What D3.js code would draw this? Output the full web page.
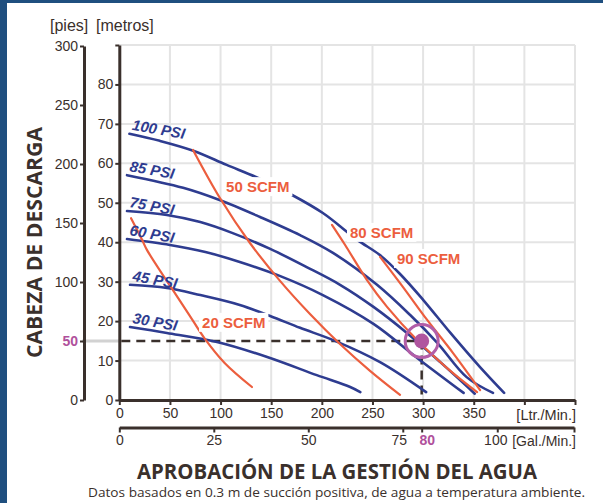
<!DOCTYPE html>
<html>
<head>
<meta charset="utf-8">
<script src="https://cdn.jsdelivr.net/npm/d3@7"></script>
<style>
  html, body { margin: 0; padding: 0; background: #ffffff; }
  svg { display: block; }
</style>
</head>
<body>
<svg id="chart" width="603" height="503"></svg>
<script>
// ---- Pump performance data: flow in L/min, discharge head in metres ----
const psiLabels = ["100 PSI", "85 PSI", "75 PSI", "60 PSI", "45 PSI", "30 PSI"];
const psi100 = [[10,67.5],[40,65.7],[73,63.2],[106,59.6],[137,56.3],[169,52.2],[201,47.4],[235,40.6],[257,36.8],[277,32],[300,25.4],[327,17],[356,8.4],[380,1.8]];
const psi85  = [[7.6,57],[63,53.8],[99,50.7],[139,46.4],[178.5,41.8],[211,37.3],[254.5,29.2],[287,21.6],[314,14.5],[343,5.8],[369,1.8]];
const psi75  = [[7.6,47.9],[47,46.9],[80,45.1],[112,42.3],[149,38.3],[185,33.7],[218,29.2],[251,23.6],[284,17],[317,9.6],[351,1.6]];
const psi60  = [[7.6,40.8],[50,39.3],[85,37.5],[119,35],[159,31.4],[201,26.6],[251,19.3],[297,10.1],[340,1.8]];
const psi45  = [[10.6,29.2],[47,28.4],[80,26.6],[119,24.1],[149,21.3],[178.5,18.3],[213,15],[257.5,9.6],[303,2]];
const psi30  = [[10.6,18.5],[47,17],[96.5,14.7],[146,10.9],[195,6.3],[228,3.3],[238,2]];

const scfmLabels = ["20 SCFM", "50 SCFM", "80 SCFM", "90 SCFM"];
const scfm20 = [[11.6,46.1],[22.5,40.6],[27.4,38],[51,28.6],[69,21.6],[84,15.7],[104,9.4],[131,3.3]];
const scfm50 = [[72.8,63.4],[99.4,51.2],[129,39.8],[158.7,30.2],[188.3,21.8],[217.9,14.2],[247.6,7.4],[277.2,1.3]];
const scfm80 = [[210,44.4],[223,39.3],[244.6,30.4],[264.4,23.6],[294,15.2],[323.7,8.1],[353.3,2]];
const scfm90 = [[257.5,36.3],[280,28.7],[304,20.3],[329.6,11.9],[356.3,2.5]];

// Tick values for each axis
const piesTicks   = [0, 50, 100, 150, 200, 250, 300];
const metrosTicks = [0, 10, 20, 30, 40, 50, 60, 70, 80, 90];
const ltrTicks    = [0, 50, 100, 150, 200, 250, 300, 350, 400, 450];
const galTicks    = [0, 25, 50, 75, 80, 100];

// Highlighted duty point: 80 gal/min at 50 ft
const dutyGal = 80;
const dutyFt = 50;

// ---- Layout ----
const svg = d3.select("#chart");
const blueEdge = "#1f4f7f";
const ink = "#3a302c";
const blue = "#2e3c90";
const red = "#ec5e3e";
const purple = "#b0509c";
const gridColor = "#e4e4e4";

svg.append("rect").attr("x", 0).attr("y", 0).attr("width", 603).attr("height", 503).attr("fill", "#ffffff");
svg.append("rect").attr("x", 0).attr("y", 0).attr("width", 7).attr("height", 503).attr("fill", blueEdge);
svg.append("rect").attr("x", 0).attr("y", 0).attr("width", 603).attr("height", 3).attr("fill", blueEdge);

const x0 = 119.3, x1 = 575, yBot = 400, yTop = 45;
const x = d3.scaleLinear().domain([0, 450]).range([x0, x1]);
const y = d3.scaleLinear().domain([0, 90]).range([yBot, yTop]);
const yFt = d3.scaleLinear().domain([0, 300]).range([yBot, 46]);
const xGal = d3.scaleLinear().domain([0, 120.3]).range([x0, 574]);

// Grid
const grid = svg.append("g");
grid.selectAll("line.v").data(ltrTicks.slice(1)).join("line")
  .attr("x1", d => x(d)).attr("x2", d => x(d)).attr("y1", yTop).attr("y2", yBot)
  .attr("stroke", gridColor).attr("stroke-width", 2);
grid.selectAll("line.h").data(metrosTicks.slice(1)).join("line")
  .attr("x1", x0).attr("x2", x1).attr("y1", d => y(d)).attr("y2", d => y(d))
  .attr("stroke", gridColor).attr("stroke-width", 2);

// Guide from the feet axis to the metres axis at the duty head
svg.append("line")
  .attr("x1", 82).attr("x2", x0).attr("y1", yFt(dutyFt)).attr("y2", yFt(dutyFt))
  .attr("stroke", "#d2d2d2").attr("stroke-width", 3);

// Dashed duty-point guides
const dutyX = xGal(dutyGal), dutyY = yFt(dutyFt);
svg.append("path")
  .attr("d", `M${x0 + 2},${dutyY}H${dutyX}V${yBot}`)
  .attr("fill", "none").attr("stroke", ink).attr("stroke-width", 2.5)
  .attr("stroke-dasharray", "9,6");

// Curves
const line = d3.line().x(d => x(d[0])).y(d => y(d[1])).curve(d3.curveCatmullRom.alpha(0.5));
const psiSeries = [psi100, psi85, psi75, psi60, psi45, psi30];
const scfmSeries = [scfm20, scfm50, scfm80, scfm90];

svg.append("g").selectAll("path").data(psiSeries).join("path")
  .attr("d", line).attr("fill", "none").attr("stroke", blue).attr("stroke-width", 2.6)
  .attr("stroke-linecap", "round");
svg.append("g").selectAll("path").data(scfmSeries).join("path")
  .attr("d", line).attr("fill", "none").attr("stroke", red).attr("stroke-width", 2.2)
  .attr("stroke-linecap", "round");

// PSI labels, sitting just above the start of each curve
svg.append("g").selectAll("text").data(psiSeries).join("text")
  .attr("transform", d => `translate(${x(d[0][0]) + 2},${y(d[0][1]) - 4}) rotate(10)`)
  .attr("font-family", "'Liberation Sans', Arial, sans-serif")
  .attr("font-size", 15).attr("font-weight", "bold").attr("font-style", "italic")
  .attr("fill", blue)
  .text((d, i) => psiLabels[i]);

// SCFM labels on white plates
const scfmAnchors = [[81.7, 18.3], [105.4, 52.7], [227.8, 41.1], [274.2, 34.5]];
const scfmG = svg.append("g");
scfmLabels.forEach((lab, i) => {
  const g = scfmG.append("g").attr("transform", `translate(${x(scfmAnchors[i][0])},${y(scfmAnchors[i][1])})`);
  const t = g.append("text")
    .attr("font-family", "'Liberation Sans', Arial, sans-serif")
    .attr("font-size", 15).attr("font-weight", "bold")
    .attr("fill", red).text(lab);
  const bb = t.node().getBBox();
  g.insert("rect", "text")
    .attr("x", bb.x - 3).attr("y", bb.y - 1).attr("width", bb.width + 6).attr("height", bb.height + 2)
    .attr("fill", "#ffffff");
});

// Duty point marker
svg.append("circle").attr("cx", dutyX).attr("cy", dutyY).attr("r", 16.5)
  .attr("fill", "none").attr("stroke", "#b25ea8").attr("stroke-width", 3);
svg.append("circle").attr("cx", dutyX).attr("cy", dutyY).attr("r", 7.5)
  .attr("fill", "#b0559f");

// ---- Axes ----
const tickFont = "'Liberation Sans', Arial, sans-serif";
function styleAxis(g) {
  g.select(".domain").attr("stroke", ink).attr("stroke-width", 3);
  g.selectAll(".tick line").attr("stroke", ink).attr("stroke-width", 2);
  g.selectAll(".tick text").attr("fill", ink).attr("font-family", tickFont).attr("font-size", 14);
}

const axFt = svg.append("g").attr("transform", "translate(84,0)")
  .call(d3.axisLeft(yFt).tickValues(piesTicks).tickSize(4).tickSizeOuter(0).tickPadding(2))
  .call(styleAxis);
axFt.selectAll(".tick text").filter(d => d === dutyFt)
  .attr("fill", purple).attr("font-weight", "bold");

svg.append("g").attr("transform", `translate(${x0},0)`)
  .call(d3.axisLeft(y).tickValues(metrosTicks).tickSize(4).tickSizeOuter(0).tickPadding(2)
    .tickFormat(d => d === 90 ? "" : d))
  .call(styleAxis);

svg.append("g").attr("transform", `translate(0,${yBot})`)
  .call(d3.axisBottom(x).tickValues(ltrTicks).tickSize(5).tickSizeOuter(0).tickPadding(3)
    .tickFormat(d => d <= 350 ? d : ""))
  .call(styleAxis);

const axGal = svg.append("g").attr("transform", "translate(0,427.5)")
  .call(d3.axisBottom(xGal).tickValues(galTicks.concat([120.3])).tickSize(5).tickSizeOuter(0).tickPadding(3)
    .tickFormat(d => d > 100 ? "" : d))
  .call(styleAxis);
axGal.selectAll(".tick text").filter(d => d === dutyGal)
  .attr("fill", purple).attr("font-weight", "bold").attr("dx", 5);
axGal.selectAll(".tick text").filter(d => d === 75).attr("dx", -4);
axGal.selectAll(".tick text").filter(d => d === 100).attr("dx", -2);

// Unit labels
const unit = (txt, xx, yy, anchor, size) => svg.append("text")
  .attr("x", xx).attr("y", yy).attr("text-anchor", anchor)
  .attr("font-family", tickFont).attr("font-size", size).attr("fill", ink).text(txt);
unit("[pies]", 50, 31, "start", 16);
unit("[metros]", 96, 31, "start", 16);
unit("[Ltr./Min.]", 576, 420, "end", 14.5);
unit("[Gal./Min.]", 576, 446, "end", 14);

// Titles
svg.append("text")
  .attr("transform", "translate(42,242.5) rotate(-90)")
  .attr("text-anchor", "middle")
  .attr("font-family", "'Open Sans', sans-serif").attr("font-weight", "bold")
  .attr("font-size", 22).attr("fill", ink)
  .attr("textLength", 231).attr("lengthAdjust", "spacingAndGlyphs")
  .text("CABEZA DE DESCARGA");

svg.append("text")
  .attr("x", 337).attr("y", 479).attr("text-anchor", "middle")
  .attr("font-family", "'Open Sans', sans-serif").attr("font-weight", "bold")
  .attr("font-size", 22).attr("fill", ink)
  .attr("textLength", 400).attr("lengthAdjust", "spacingAndGlyphs")
  .text("APROBACIÓN DE LA GESTIÓN DEL AGUA");

svg.append("text")
  .attr("x", 336.5).attr("y", 497).attr("text-anchor", "middle")
  .attr("font-family", "'Open Sans', sans-serif")
  .attr("font-size", 13).attr("fill", ink)
  .attr("textLength", 497).attr("lengthAdjust", "spacingAndGlyphs")
  .text("Datos basados en 0.3 m de succión positiva, de agua a temperatura ambiente.");
</script>
</body>
</html>
